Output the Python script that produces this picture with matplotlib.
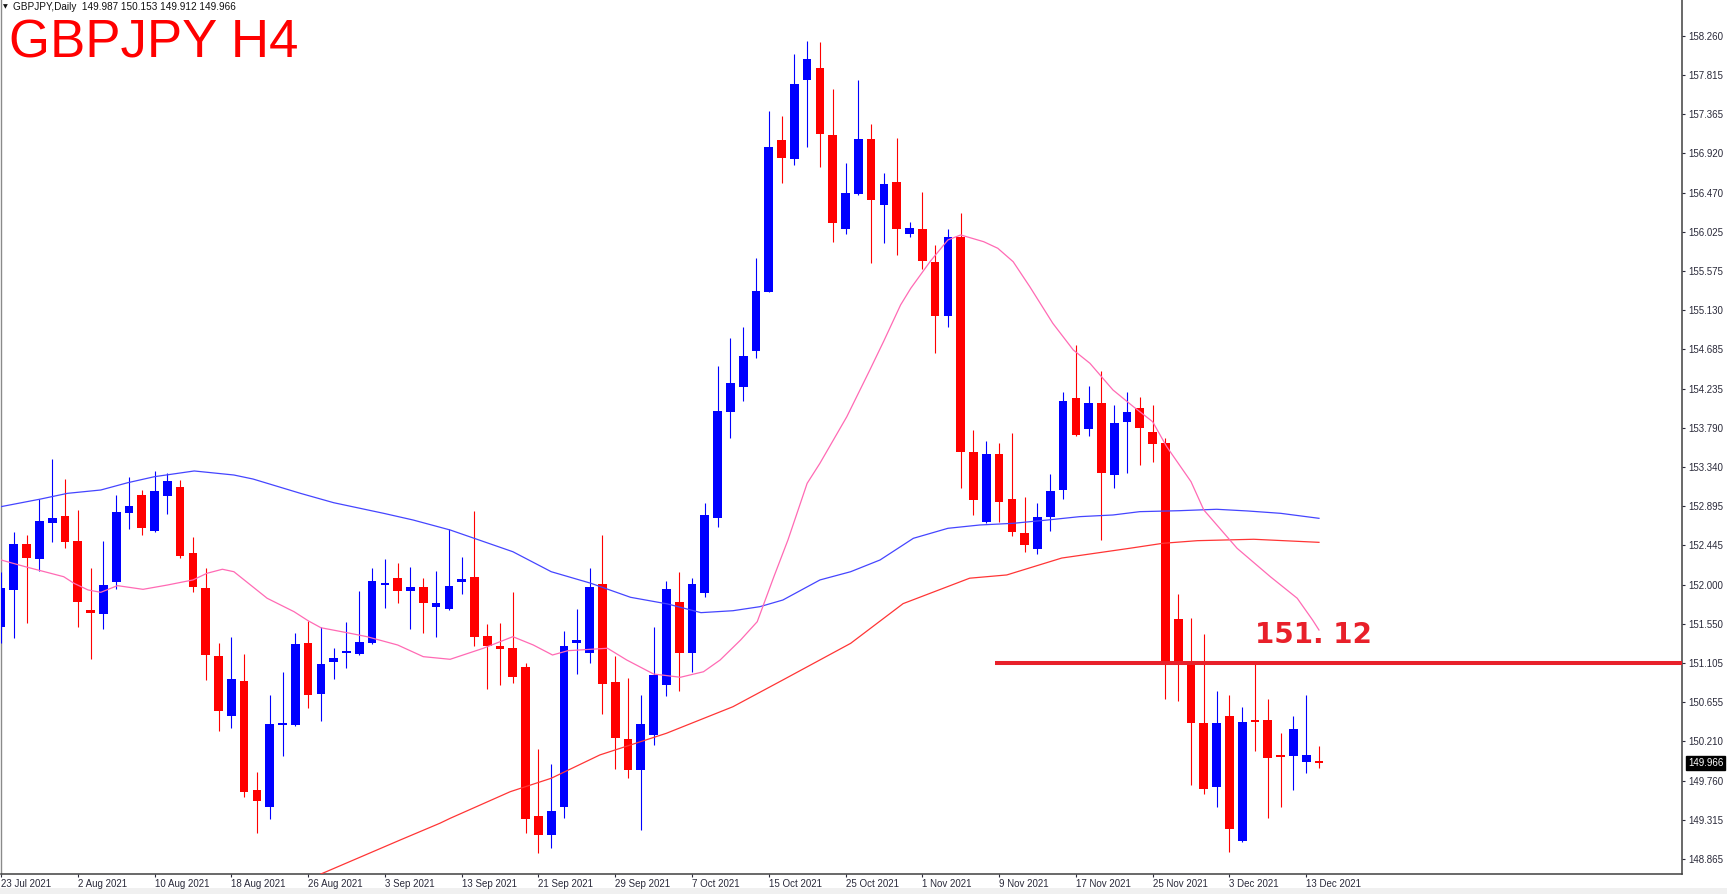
import matplotlib
matplotlib.use("Agg")
import matplotlib.pyplot as plt
from matplotlib.patches import Rectangle
import matplotlib.transforms as mtrans

# ---------------- data ----------------
title_text = "GBPJPY H4"
header_text = "GBPJPY,Daily  149.987 150.153 149.912 149.966"

opens = [151.519, 151.934, 152.459, 152.291, 152.702, 152.778, 152.500, 151.709, 151.660, 152.025,
         152.812, 153.021, 152.610, 153.013, 153.116, 152.356, 151.957, 151.188, 150.500, 150.900,
         149.656, 149.466, 150.394, 150.398, 151.329, 150.748, 151.113, 151.215, 151.208, 151.329,
         152.000, 152.078, 151.926, 151.975, 151.740, 151.721, 152.032, 152.082, 151.416, 151.299,
         151.279, 151.063, 149.360, 149.143, 149.459, 151.336, 151.222, 152.006, 150.888, 150.241,
         149.884, 150.284, 150.854, 151.804, 151.222, 151.900, 152.764, 153.968, 154.249, 154.663,
         155.340, 157.070, 156.853, 157.755, 157.895, 157.127, 156.055, 156.454, 157.078, 156.329,
         156.588, 155.998, 156.052, 155.682, 155.063, 155.960, 153.508, 152.717, 153.489, 152.972,
         152.584, 152.405, 152.774, 153.078, 154.124, 153.770, 154.067, 153.249, 153.850, 154.010,
         153.743, 153.611, 151.603, 151.128, 150.424, 149.687, 150.500, 149.075, 150.440, 150.451,
         150.044, 150.044, 149.979, 149.987]
highs = [152.146, 152.596, 152.565, 152.972, 153.428, 153.200, 152.850, 152.185, 152.496, 153.018,
         153.230, 153.078, 153.298, 153.269, 153.192, 152.539, 152.192, 151.329, 151.398, 151.204,
         149.865, 150.740, 150.999, 151.443, 151.587, 151.510, 151.276, 151.576, 151.929, 152.185,
         152.288, 152.249, 152.203, 152.078, 152.158, 152.630, 152.317, 152.842, 151.546, 151.558,
         151.918, 151.108, 150.120, 149.949, 151.473, 151.717, 152.185, 152.565, 151.185, 150.937,
         150.740, 151.512, 152.040, 152.146, 152.071, 152.926, 154.492, 154.815, 154.941, 155.728,
         157.404, 157.347, 158.048, 158.199, 158.188, 157.648, 156.804, 157.755, 157.249, 156.690,
         157.090, 156.138, 156.480, 155.873, 156.055, 156.234, 153.762, 153.637, 153.611, 153.725,
         152.995, 152.926, 153.261, 154.199, 154.732, 154.264, 154.435, 154.048, 154.199, 154.135,
         154.048, 153.668, 151.892, 151.621, 151.432, 150.789, 150.740, 150.600, 151.116, 150.691,
         150.303, 150.500, 150.740, 150.153]
lows = [151.329, 151.387, 151.558, 152.158, 152.488, 152.420, 151.512, 151.147, 151.493, 151.945,
        152.637, 152.565, 152.599, 152.801, 152.299, 151.911, 150.911, 150.333, 150.360, 149.580,
        149.169, 149.329, 150.044, 150.386, 150.588, 150.443, 150.926, 151.044, 151.196, 151.322,
        151.729, 151.786, 151.489, 151.444, 151.405, 151.709, 151.888, 151.302, 150.812, 150.854,
        150.880, 149.162, 148.934, 148.991, 149.340, 150.979, 151.101, 150.520, 149.892, 149.790,
        149.200, 150.170, 150.728, 150.789, 151.006, 151.861, 152.659, 153.668, 154.097, 154.580,
        155.333, 156.583, 156.785, 156.994, 156.759, 155.903, 155.995, 156.443, 155.671, 155.892,
        155.758, 155.960, 155.595, 154.644, 154.941, 153.097, 152.793, 152.698, 152.717, 152.553,
        152.374, 152.348, 152.610, 152.975, 153.694, 153.694, 152.508, 153.104, 153.269, 153.363,
        153.394, 150.691, 150.675, 149.713, 149.611, 149.466, 148.953, 149.067, 150.105, 149.340,
        149.466, 149.656, 149.854, 149.912]
closes = [151.957, 152.459, 152.299, 152.721, 152.759, 152.481, 151.801, 151.672, 151.991, 152.831,
          152.896, 152.648, 153.067, 153.181, 152.329, 151.968, 151.196, 150.557, 150.922, 149.637,
          149.531, 150.406, 150.398, 151.318, 150.736, 151.090, 151.162, 151.242, 151.344, 152.040,
          152.009, 151.929, 151.968, 151.786, 151.786, 151.983, 152.063, 151.405, 151.302, 151.261,
          150.949, 149.322, 149.143, 149.417, 151.299, 151.367, 151.975, 150.865, 150.246, 149.884,
          150.409, 150.964, 151.949, 151.215, 152.002, 152.796, 153.983, 154.295, 154.606, 155.351,
          156.994, 156.861, 157.705, 157.991, 157.135, 156.127, 156.462, 157.078, 156.386, 156.565,
          156.052, 156.063, 155.687, 155.063, 155.960, 153.508, 152.964, 153.489, 152.938, 152.602,
          152.451, 152.767, 153.070, 154.093, 153.705, 154.074, 153.269, 153.846, 153.964, 153.789,
          153.603, 151.128, 151.116, 150.417, 149.671, 150.424, 149.211, 150.432, 150.432, 150.025,
          150.036, 150.349, 150.052, 149.966]

# moving averages (bar position, price)
ma_pink_x = [0, 1.9, 4.9, 5.7, 6.8, 7.8, 9.1, 11.1, 13.0, 15.0, 16.1, 17.3, 18.2, 20.8, 22.9, 24.0,
             25.0, 27.3, 28.6, 31.0, 33.0, 35.1, 37.7, 40.0, 41.6, 43.1, 44.3, 47.4, 48.9, 51.0,
             53.1, 54.9, 56.2, 57.8, 59.1, 60.4, 61.5, 63.0, 64.0, 66.1, 67.9, 69.0, 70.3, 71.1,
             72.6, 74.0, 75.0, 76.8, 77.9, 79.1, 80.4, 82.2, 83.8, 85.1, 86.9, 88.5, 90.0, 91.1,
             93.0, 94.0, 96.6, 99.2, 101.3, 102.5, 103.0]
ma_pink_y = [152.280, 152.203, 152.089, 152.014, 151.938, 151.911, 151.987, 151.945, 151.994, 152.052,
             152.128, 152.174, 152.146, 151.843, 151.690, 151.587, 151.507, 151.443, 151.405, 151.310,
             151.177, 151.147, 151.273, 151.405, 151.310, 151.196, 151.245, 151.273, 151.139, 150.979,
             150.942, 151.005, 151.139, 151.367, 151.576, 152.089, 152.508, 153.154, 153.383, 153.914,
             154.447, 154.780, 155.188, 155.379, 155.682, 155.930, 155.987, 155.910, 155.835, 155.682,
             155.397, 154.979, 154.675, 154.523, 154.219, 154.028, 153.857, 153.572, 153.173, 152.850,
             152.413, 152.089, 151.843, 151.595, 151.481]
ma_blue_x = [0, 3.1, 5.2, 7.8, 9.9, 12.0, 15.1, 18.2, 19.7, 23.4, 26.0, 29.9, 32.2, 35.1, 40.0, 43.0,
             46.1, 49.2, 52.1, 54.7, 57.2, 59.3, 61.1, 64.0, 66.4, 68.7, 71.3, 74.0, 76.5, 79.1,
             81.8, 84.3, 86.9, 89.0, 92.1, 95.0, 97.4, 100.0, 103.0]
ma_blue_y = [152.888, 152.975, 153.040, 153.078, 153.161, 153.230, 153.295, 153.249, 153.203, 153.040,
             152.933, 152.812, 152.736, 152.622, 152.374, 152.146, 152.014, 151.854, 151.778, 151.679,
             151.701, 151.747, 151.823, 152.052, 152.146, 152.280, 152.527, 152.641, 152.679, 152.698,
             152.736, 152.774, 152.793, 152.831, 152.842, 152.858, 152.839, 152.812, 152.755]
ma_red_x = [25.0, 31.2, 34.3, 35.1, 39.8, 43.0, 46.8, 52.0, 57.2, 61.1, 66.4, 70.5, 75.7, 78.6, 82.9,
            88.2, 90.8, 93.5, 97.9, 103.0]
ma_red_y = [148.698, 149.086, 149.277, 149.333, 149.637, 149.790, 150.056, 150.303, 150.606, 150.911,
            151.329, 151.782, 152.072, 152.109, 152.302, 152.413, 152.470, 152.500, 152.516, 152.481]

date_labels = ["23 Jul 2021", "2 Aug 2021", "10 Aug 2021", "18 Aug 2021", "26 Aug 2021",
               "3 Sep 2021", "13 Sep 2021", "21 Sep 2021", "29 Sep 2021", "7 Oct 2021",
               "15 Oct 2021", "25 Oct 2021", "1 Nov 2021", "9 Nov 2021", "17 Nov 2021",
               "25 Nov 2021", "3 Dec 2021", "13 Dec 2021"]
bars_per_label = 6

price_ticks = [158.260, 157.815, 157.365, 156.920, 156.470, 156.025, 155.575, 155.130, 154.685,
               154.235, 153.790, 153.340, 152.895, 152.445, 152.000, 151.550, 151.105, 150.655,
               150.210, 149.760, 149.315, 148.865]

level_price = 151.11
level_start_bar = 77.7
level_label = "151. 12"
last_price = 149.966

# ---------------- figure ----------------
W, H = 1727, 894
fig = plt.figure(figsize=(W / 100, H / 100), dpi=100)
fig.patch.set_facecolor("white")
ax = fig.add_axes([1 / W, 20 / H, 1681 / W, 874 / H])
ax.set_facecolor("white")

XMIN, XMAX = 0.039, 131.37
ax.set_xlim(XMIN, XMAX)
ax.set_ylim(148.698, 158.667)

bull, bear = "#0000ff", "#ff0000"
for i, (o, h, l, c) in enumerate(zip(opens, highs, lows, closes)):
    col = bull if c >= o else bear
    ax.vlines(i, l, h, color=col, lw=0.8, zorder=3)
    bottom = min(o, c)
    height = max(abs(c - o), 0.022)
    ax.add_patch(Rectangle((i - 0.34, bottom), 0.68, height, facecolor=col,
                           edgecolor=col, lw=0, zorder=4))

ax.plot(ma_red_x, ma_red_y, color="#ff3535", lw=0.9, zorder=5)
ax.plot(ma_blue_x, ma_blue_y, color="#4545ff", lw=0.9, zorder=5)
ax.plot(ma_pink_x, ma_pink_y, color="#ff6ab4", lw=0.9, zorder=5)

# horizontal level
ax.plot([level_start_bar, XMAX], [level_price, level_price], color="#e8202a", lw=2.9,
        solid_capstyle="butt", zorder=6)
ax.text(102.6, 151.42, level_label, ha="center", va="center", fontsize=20,
        fontweight="bold", color="#e8202a", family="DejaVu Sans", zorder=7)

# spines
ax.spines["top"].set_visible(False)
ax.spines["left"].set_color("#8a8a8a")
ax.spines["left"].set_linewidth(1.0)
for s in ("bottom", "right"):
    ax.spines[s].set_color("#404040")
    ax.spines[s].set_linewidth(1.1)

# y axis on the right
ax.yaxis.tick_right()
ax.set_yticks(price_ticks)
ax.set_yticklabels([f"{p:.3f}" for p in price_ticks], family="Liberation Sans")
ax.tick_params(axis="y", direction="out", length=1.8, width=0.8, pad=2.5,
               labelsize=7, colors="#2a2a3a")

# x axis dates
ax.set_xticks([k * bars_per_label for k in range(len(date_labels))])
ax.set_xticklabels(date_labels, ha="left", family="Liberation Sans")
ax.tick_params(axis="x", direction="out", length=2.2, width=0.8, pad=1.4,
               labelsize=7, colors="#2a2a3a")

# last price tag
trans = mtrans.blended_transform_factory(ax.transAxes, ax.transData)
ax.text(1.0036, last_price, f"{last_price:.3f}", transform=trans, color="white",
        fontsize=7, va="center", ha="left", family="Liberation Sans",
        bbox=dict(facecolor="black", edgecolor="black", boxstyle="square,pad=0.18"))

# title and header
fig.text(9 / W, 1 - 58 / H, title_text, fontsize=38, color="#ff0000",
         family="Liberation Sans", va="baseline", ha="left")
fig.text(13 / W, 1 - 7.5 / H, header_text, fontsize=7.2, color="#111111",
         family="Liberation Sans", va="center", ha="left")
fig.text(2.5 / W, 1 - 7 / H, "\u25bc", fontsize=4.5, color="#111111",
         family="DejaVu Sans", va="center", ha="left")

# light band at the very bottom
fig.patches.append(Rectangle((0, 0), 1, 6 / H, transform=fig.transFigure,
                             facecolor="#f0f0f0", edgecolor="none", zorder=-1))

fig.savefig("out.png", dpi=100, facecolor="white")
